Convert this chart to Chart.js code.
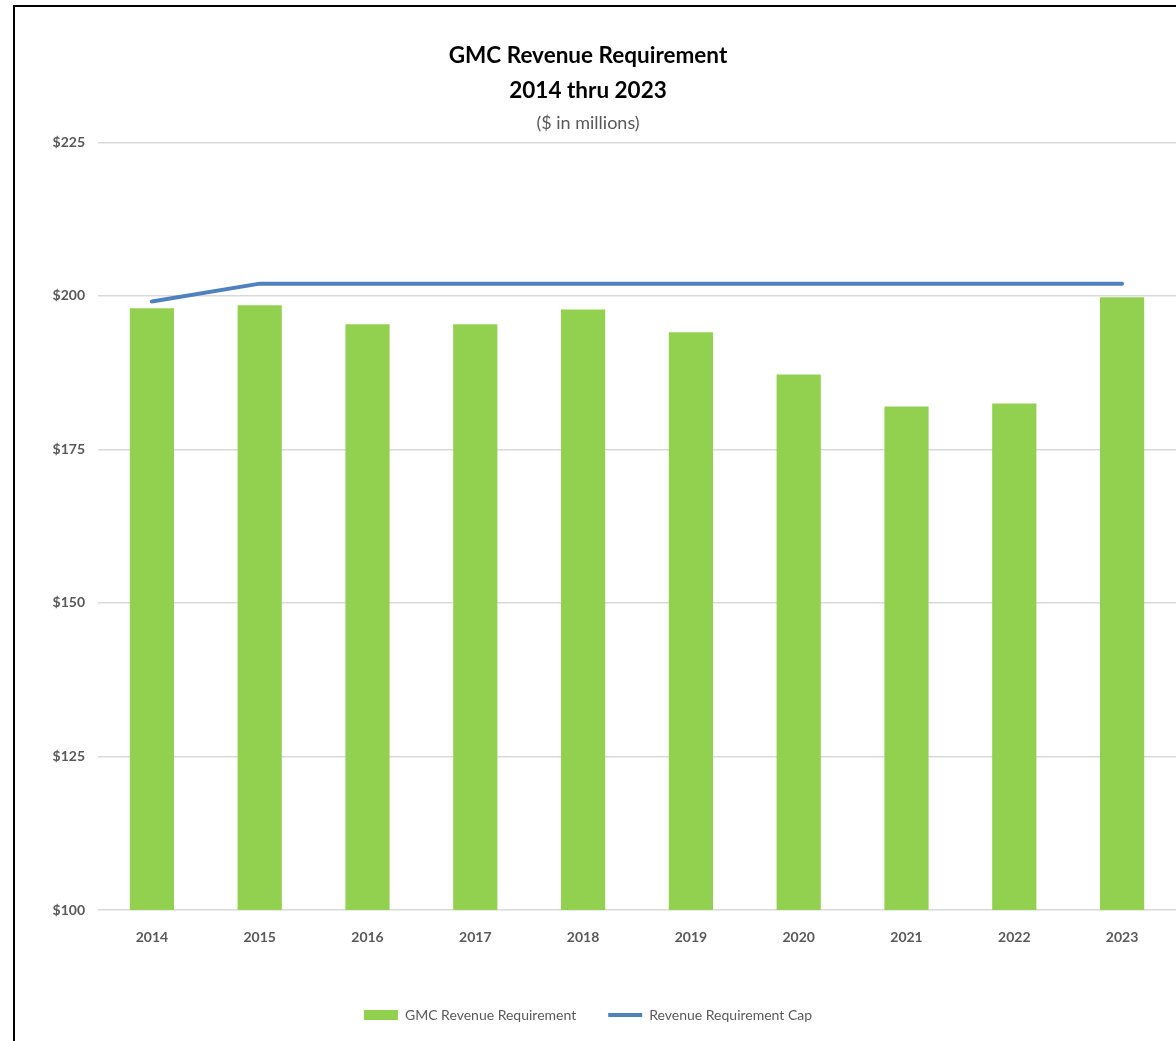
<!DOCTYPE html>
<html>
<head>
<meta charset="utf-8">
<title>GMC Revenue Requirement</title>
<script src="https://cdn.jsdelivr.net/npm/chart.js@4.4.1/dist/chart.umd.min.js"></script>
<style>
  html, body { margin: 0; padding: 0; overflow: hidden; background: #fff; }
  #wrap { position: relative; width: 1176px; height: 1041px; }
  #frame {
    position: absolute; left: 13px; top: 5px; width: 1300px; height: 1200px;
    border: 2px solid #000; pointer-events: none;
  }
</style>
</head>
<body>
<div id="wrap">
  <canvas id="revenue-chart"></canvas>
  <div id="frame"></div>
</div>
<script>
// Chart data
const years = ["2014", "2015", "2016", "2017", "2018", "2019", "2020", "2021", "2022", "2023"];
const revenueRequirement = [198.0, 198.5, 195.4, 195.4, 197.8, 194.1, 187.2, 182.0, 182.5, 199.8];
const revenueCap = [199.1, 202.0, 202.0, 202.0, 202.0, 202.0, 202.0, 202.0, 202.0, 202.0];
const yTicks = [100, 125, 150, 175, 200, 225];

const green = "#92D050";
const blue = "#4F81BD";
const grey = "#595959";
const fontFamily = "Lato, 'Open Sans', sans-serif";

Chart.defaults.font.family = fontFamily;
Chart.defaults.color = grey;

const revenueChart = document.getElementById("revenue-chart");
const revenueChartContext = revenueChart.getContext("2d");

new Chart(revenueChartContext, {
  type: "bar",
  data: {
    labels: years,
    datasets: [
      {
        label: "GMC Revenue Requirement",
        data: revenueRequirement,
        backgroundColor: green,
        borderWidth: 0,
        categoryPercentage: 1,
        barPercentage: 0.41,
      },
      {
        type: "line",
        label: "Revenue Requirement Cap",
        data: revenueCap,
        borderColor: blue,
        backgroundColor: blue,
        borderWidth: 4,
        borderCapStyle: "round",
        pointRadius: 0,
        tension: 0,
        fill: false,
      },
    ],
  },
  options: {
    responsive: true,
    maintainAspectRatio: false,
    animation: false,
    layout: { padding: { left: 0, right: 0, top: 0, bottom: 9 } },
    plugins: {
      title: {
        display: true,
        text: ["GMC Revenue Requirement", "2014 thru 2023"],
        color: "#000",
        font: { size: 22.5, weight: "bold", lineHeight: 1.52 },
        padding: { top: 39, bottom: 5 },
      },
      subtitle: {
        display: true,
        text: "($ in millions)",
        color: grey,
        font: { size: 18, weight: "normal", lineHeight: 1.2 },
        padding: { top: 0, bottom: 8.4 },
      },
      legend: {
        position: "bottom",
        labels: {
          color: grey,
          font: { size: 14 },
          usePointStyle: true,
          pointStyleWidth: 34,
          boxHeight: 10,
          padding: 32,
          generateLabels: (chart) => {
            const items = Chart.defaults.plugins.legend.labels.generateLabels(chart);
            items[0].pointStyle = "rect";
            items[0].lineWidth = 0;
            items[1].pointStyle = "line";
            items[1].lineWidth = 4;
            items[1].strokeStyle = blue;
            return items;
          },
        },
      },
      tooltip: { enabled: false },
    },
    scales: {
      x: {
        grid: { display: false, drawTicks: false },
        border: { display: false },
        ticks: {
          padding: 19,
          color: grey,
          font: { size: 14, weight: "bold" },
        },
        afterFit: (axis) => {
          axis.height = 66;
        },
      },
      y: {
        min: yTicks[0],
        max: yTicks[yTicks.length - 1],
        grid: { color: "#D9D9D9", lineWidth: 1.5, drawTicks: false },
        border: { display: false },
        ticks: {
          stepSize: 25,
          padding: 13,
          color: grey,
          font: { size: 14, weight: "bold" },
          callback: (value) => "$" + value,
        },
        afterFit: (axis) => {
          axis.width = 98;
        },
      },
    },
  },
});
</script>
</body>
</html>
